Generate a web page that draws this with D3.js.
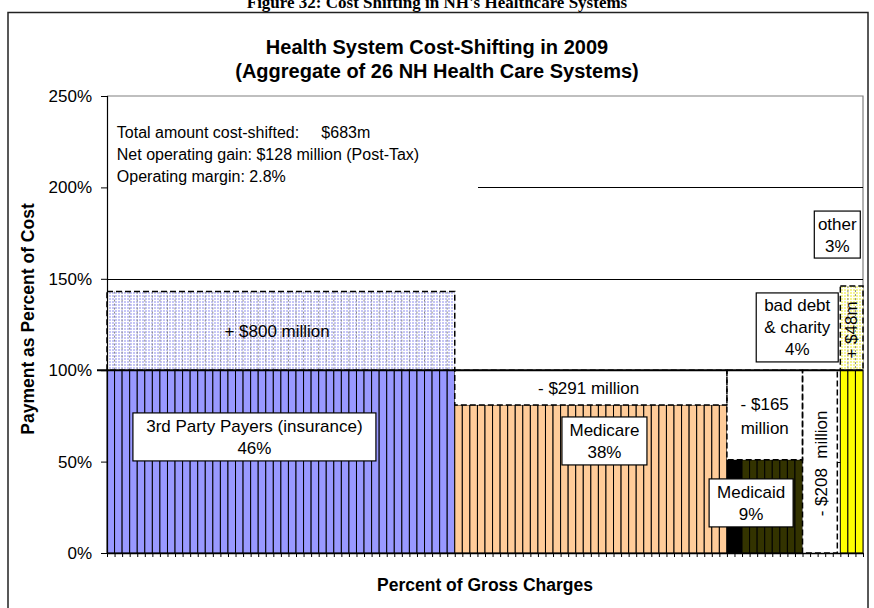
<!DOCTYPE html>
<html><head><meta charset="utf-8">
<script src="https://cdn.jsdelivr.net/npm/d3@7"></script>
<style>
body{margin:0;background:#fff}
svg{display:block}
text{font-family:Arial,"Liberation Sans",sans-serif;fill:#000}
</style>
</head><body>
<svg id="c" width="874" height="608"></svg>
<script>
// ---------- data ----------
const segmentNames  = ["3rd Party Payers", "Medicare", "Medicaid (part)", "Medicaid", "Bad debt & charity", "Other"];
const segmentShare  = [46, 36, 2, 8, 5, 3];          // % of gross charges (one bar per 1%)
const paymentPct    = [100, 81, 51, 51, 0, 100];     // payment as % of cost

const shiftNames = ["+ $800 million", "- $291 million", "- $165 million", "- $208 million", "+ $48m"];
const shiftFrom  = [0, 46, 82, 92, 97];
const shiftTo    = [46, 82, 92, 97, 100];
const shiftLow   = [100, 81, 51, 0, 100];
const shiftHigh  = [143, 100, 100, 100, 146];

const labelLines = [["3rd Party Payers (insurance)", "46%"], ["Medicare", "38%"], ["Medicaid", "9%"], ["bad debt", "& charity", "4%"], ["other", "3%"]];
const labelX = [19.5, 65.8, 85.2, 91.3, 96.6];
const labelY = [63.5, 61.3, 27.4, 123.4, 174.2];

const summaryLines = ["Total amount cost-shifted:     $683m", "Net operating gain: $128 million (Post-Tax)", "Operating margin: 2.8%"];
const yTicks = [0, 50, 100, 150, 200, 250];
const gridLevels = [50, 100, 150, 200];

// ---------- styles ----------
const segColors = ["#9999ff", "#ffcc99", "#000000", "#333300", "#ffffff", "#ffff00"];
const shiftFill = ["url(#chkBlue)", "#fff", "#fff", "#fff", "url(#chkYellow)"];
const labelW = [243, 85, 84, 82, 46];
const labelH = [48, 48, 48, 69, 47];

const svg = d3.select("#c");
const m = {l: 107, r: 863, t: 96, b: 553};
const x = d3.scaleLinear().domain([0, 100]).range([m.l, m.r]);
const y = d3.scaleLinear().domain([0, 250]).range([m.b, m.t]);

// patterns
const defs = svg.append("defs");
function checker(id, bg) {
  const p = defs.append("pattern").attr("id", id).attr("width", 3).attr("height", 3).attr("patternUnits", "userSpaceOnUse");
  p.append("rect").attr("width", 3).attr("height", 3).attr("fill", bg);
  p.append("path").attr("d", "M0 0.5H3M0.5 0V3").attr("stroke", "#fff").attr("stroke-width", 1);
}
checker("chkBlue", "#c6c6f6");
checker("chkYellow", "#f6f690");

// figure title (cut off at top, as in the source page)
svg.append("text").attr("x", 437).attr("y", 8).attr("text-anchor", "middle")
  .style("font-family", "'Liberation Serif','Times New Roman',serif").style("font-weight", "bold").style("font-size", "17px")
  .text("Figure 32: Cost Shifting in NH's Healthcare Systems");

// chart frame
svg.append("rect").attr("x", 8).attr("y", 12.5).attr("width", 860).attr("height", 640)
  .attr("fill", "none").attr("stroke", "#222").attr("stroke-width", 1.5);

// chart title
svg.append("text").attr("x", 437).attr("y", 54).attr("text-anchor", "middle")
  .style("font-weight", "bold").style("font-size", "20px").text("Health System Cost-Shifting in 2009");
svg.append("text").attr("x", 437).attr("y", 78).attr("text-anchor", "middle")
  .style("font-weight", "bold").style("font-size", "20px").text("(Aggregate of 26 NH Health Care Systems)");

// plot border (top/right) and gridlines
svg.append("path").attr("d", `M${m.l},${m.t}H${m.r}V${m.b}`).attr("fill", "none").attr("stroke", "#808080").attr("stroke-width", 1.2);
svg.append("g").selectAll("line").data(gridLevels).join("line")
  .attr("x1", m.l).attr("x2", m.r).attr("y1", d => Math.round(y(d)) + 0.5).attr("y2", d => Math.round(y(d)) + 0.5)
  .attr("stroke", "#000").attr("stroke-width", 1);

// summary text box (covers gridline)
svg.append("rect").attr("x", m.l + 1).attr("y", y(235)).attr("width", 370).attr("height", y(193) - y(235)).attr("fill", "#fff");
svg.append("g").selectAll("text").data(summaryLines).join("text")
  .attr("x", x(1.3)).attr("y", (d, i) => y(227) + i * 22)
  .style("font-size", "16px").style("white-space", "pre").text(d => d);

// bars, one per 1% of gross charges
const starts = segmentShare.map((s, i) => d3.sum(segmentShare.slice(0, i)));
const barData = [];
segmentShare.forEach((s, gi) => {
  for (let k = 0; k < s; k++) barData.push({g: gi, i: starts[gi] + k, v: paymentPct[gi]});
});
svg.append("g").selectAll("rect").data(barData.filter(d => d.v > 0)).join("rect")
  .attr("x", d => x(d.i)).attr("width", d => x(d.i + 1) - x(d.i))
  .attr("y", d => y(d.v)).attr("height", d => y(0) - y(d.v))
  .attr("fill", d => segColors[d.g]).attr("stroke", "#000").attr("stroke-width", 1);

// cost-shift regions
const shifts = shiftNames.map((n, i) => ({n, i, x0: shiftFrom[i], x1: shiftTo[i], lo: shiftLow[i], hi: shiftHigh[i]}));
svg.append("g").selectAll("rect").data(shifts).join("rect")
  .attr("x", d => x(d.x0)).attr("width", d => x(d.x1) - x(d.x0) - (d.i === 3 ? 3 : 0))
  .attr("y", d => y(d.hi)).attr("height", d => y(d.lo) - y(d.hi))
  .attr("fill", d => shiftFill[d.i]);
// faint per-bar dotted separators in patterned regions
const sepData = [];
shifts.filter(d => d.i === 0 || d.i === 4).forEach(d => { for (let k = d.x0 + 1; k < d.x1; k++) sepData.push({k, lo: d.lo, hi: d.hi}); });
svg.append("g").selectAll("line").data(sepData).join("line")
  .attr("x1", d => x(d.k)).attr("x2", d => x(d.k)).attr("y1", d => y(d.hi)).attr("y2", d => y(d.lo))
  .attr("stroke", "#888").attr("stroke-width", 1).attr("stroke-dasharray", "2,2");
svg.append("g").selectAll("rect").data(shifts).join("rect")
  .attr("x", d => x(d.x0)).attr("width", d => x(d.x1) - x(d.x0) - (d.i === 3 ? 3 : 0))
  .attr("y", d => y(d.hi)).attr("height", d => y(d.lo) - y(d.hi))
  .attr("fill", "none").attr("stroke", "#000").attr("stroke-width", 1.5).attr("stroke-dasharray", "6,3");

// 100% reference line
svg.append("line").attr("x1", m.l - 10).attr("x2", m.r).attr("y1", y(100)).attr("y2", y(100))
  .attr("stroke", "#000").attr("stroke-width", 2);

// axes
const yAxis = svg.append("g").attr("transform", `translate(${m.l},0)`)
  .call(d3.axisLeft(y).tickValues(yTicks).tickFormat(d => d + "%").tickSize(6).tickPadding(9));
yAxis.select(".domain").attr("stroke", "#000").attr("stroke-width", 1.2);
yAxis.selectAll("text").style("font-size", "17px").style("font-family", "Arial,'Liberation Sans',sans-serif");
const xAxis = svg.append("g").attr("transform", `translate(0,${m.b})`)
  .call(d3.axisBottom(x).tickValues(d3.range(0, 101)).tickFormat("").tickSize(4).tickSizeOuter(0));
xAxis.select(".domain").attr("stroke", "#000").attr("stroke-width", 1.5);

// shift labels
const sh = svg.append("g").style("font-size", "17px");
sh.append("text").attr("x", x(22.5)).attr("y", y(121.4) + 6).attr("text-anchor", "middle").text(shiftNames[0]);
sh.append("text").attr("x", x(63.7)).attr("y", y(90.5) + 6).attr("text-anchor", "middle").text(shiftNames[1]);
sh.append("text").attr("x", x(87)).attr("y", y(81.5) + 6).attr("text-anchor", "middle").text("- $165");
sh.append("text").attr("x", x(87)).attr("y", y(68.5) + 6).attr("text-anchor", "middle").text("million");
sh.append("text").attr("transform", `translate(${x(94.4) + 6},${y(49)}) rotate(-90)`).attr("text-anchor", "middle")
  .style("white-space", "pre").text("- $208  million");
sh.append("text").attr("transform", `translate(${x(98.4) + 6},${y(122)}) rotate(-90)`).attr("text-anchor", "middle").text(shiftNames[4]);

// category label boxes
labelLines.forEach((lines, i) => {
  const cx = x(labelX[i]), cy = y(labelY[i]);
  const g = svg.append("g");
  g.append("rect").attr("x", cx - labelW[i] / 2).attr("y", cy - labelH[i] / 2).attr("width", labelW[i]).attr("height", labelH[i])
    .attr("fill", "#fff").attr("stroke", "#000").attr("stroke-width", 1.2);
  const lh = 22;
  g.selectAll("text").data(lines).join("text")
    .attr("x", cx).attr("y", (d, k) => cy + (k - (lines.length - 1) / 2) * lh + 6)
    .attr("text-anchor", "middle").style("font-size", "17px").text(d => d);
});

// axis titles
svg.append("text").attr("transform", `translate(34,${(203 + 435) / 2}) rotate(-90)`).attr("text-anchor", "middle")
  .style("font-weight", "bold").style("font-size", "17.5px").text("Payment as Percent of Cost");
svg.append("text").attr("x", 485).attr("y", 591).attr("text-anchor", "middle")
  .style("font-weight", "bold").style("font-size", "17.5px").text("Percent of Gross Charges");
</script>
</body></html>
